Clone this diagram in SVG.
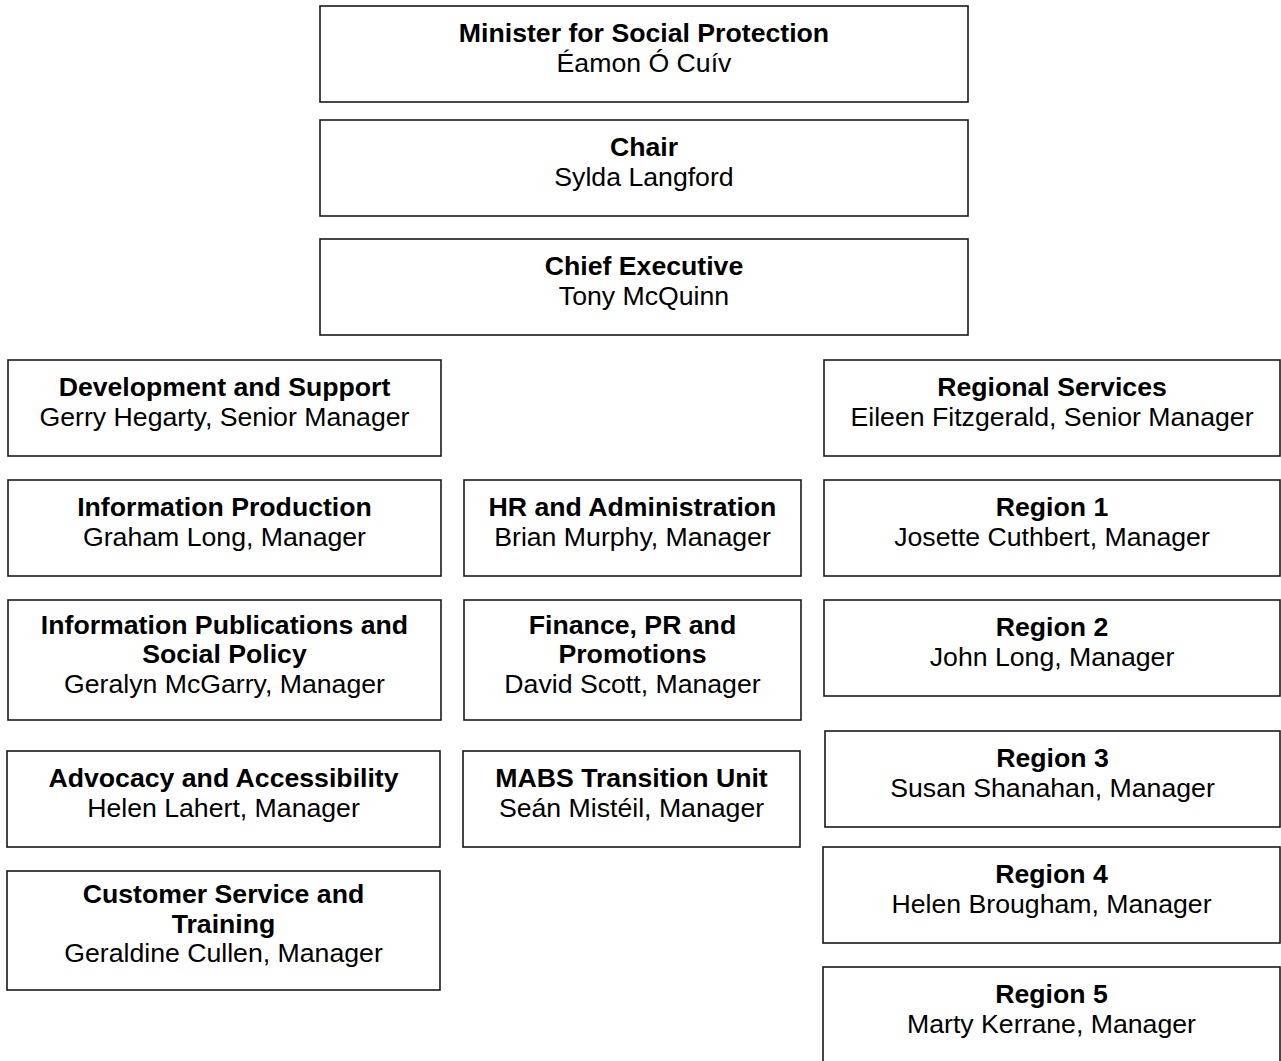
<svg xmlns="http://www.w3.org/2000/svg" width="1281" height="1061" viewBox="0 0 1281 1061">
<style>
.box{fill:#fff;stroke:#1a1a1a;stroke-width:1.6}
text{font-family:"Liberation Sans",Arial,sans-serif;font-size:26.67px;fill:#000;text-anchor:middle}
.t{font-weight:bold}
</style>
<rect width="1281" height="1061" fill="#fff"/>
<g id="connectors"></g>
<g id="minister"><rect class="box" x="320" y="6" width="648" height="96"/><text class="t" x="644" y="41.5">Minister for Social Protection</text><text x="644" y="71.5">Éamon Ó Cuív</text></g>
<g id="chair"><rect class="box" x="320" y="120" width="648" height="96"/><text class="t" x="644" y="156">Chair</text><text x="644" y="186">Sylda Langford</text></g>
<g id="ceo"><rect class="box" x="320" y="239" width="648" height="96"/><text class="t" x="644" y="274.5">Chief Executive</text><text x="644" y="304.5">Tony McQuinn</text></g>
<g id="dev"><rect class="box" x="8" y="360" width="433" height="96"/><text class="t" x="224.5" y="395.5">Development and Support</text><text x="224.5" y="425.5">Gerry Hegarty, Senior Manager</text></g>
<g id="regional"><rect class="box" x="824" y="360" width="456" height="96"/><text class="t" x="1052" y="395.5">Regional Services</text><text x="1052" y="425.5">Eileen Fitzgerald, Senior Manager</text></g>
<g id="infoprod"><rect class="box" x="8" y="480" width="433" height="96"/><text class="t" x="224.5" y="515.5">Information Production</text><text x="224.5" y="545.5">Graham Long, Manager</text></g>
<g id="hr"><rect class="box" x="464" y="480" width="337" height="96"/><text class="t" x="632.5" y="515.5">HR and Administration</text><text x="632.5" y="545.5">Brian Murphy, Manager</text></g>
<g id="region1"><rect class="box" x="824" y="480" width="456" height="96"/><text class="t" x="1052" y="515.5">Region 1</text><text x="1052" y="545.5">Josette Cuthbert, Manager</text></g>
<g id="infopub"><rect class="box" x="8" y="600" width="433" height="120"/><text class="t" x="224.5" y="633.5">Information Publications and</text><text class="t" x="224.5" y="663">Social Policy</text><text x="224.5" y="692.5">Geralyn McGarry, Manager</text></g>
<g id="finance"><rect class="box" x="464" y="600" width="337" height="120"/><text class="t" x="632.5" y="633.5">Finance, PR and</text><text class="t" x="632.5" y="663">Promotions</text><text x="632.5" y="692.5">David Scott, Manager</text></g>
<g id="region2"><rect class="box" x="824" y="600" width="456" height="96"/><text class="t" x="1052" y="635.5">Region 2</text><text x="1052" y="665.5">John Long, Manager</text></g>
<g id="advocacy"><rect class="box" x="7" y="751" width="433" height="96"/><text class="t" x="223.5" y="786.5">Advocacy and Accessibility</text><text x="223.5" y="816.5">Helen Lahert, Manager</text></g>
<g id="mabs"><rect class="box" x="463" y="751" width="337" height="96"/><text class="t" x="631.5" y="786.5">MABS Transition Unit</text><text x="631.5" y="816.5">Seán Mistéil, Manager</text></g>
<g id="region3"><rect class="box" x="825" y="731" width="455" height="96"/><text class="t" x="1052.5" y="766.5">Region 3</text><text x="1052.5" y="796.5">Susan Shanahan, Manager</text></g>
<g id="region4"><rect class="box" x="823" y="847" width="457" height="96"/><text class="t" x="1051.5" y="882.5">Region 4</text><text x="1051.5" y="912.5">Helen Brougham, Manager</text></g>
<g id="customer"><rect class="box" x="7" y="871" width="433" height="119"/><text class="t" x="223.5" y="903">Customer Service and</text><text class="t" x="223.5" y="932.5">Training</text><text x="223.5" y="962">Geraldine Cullen, Manager</text></g>
<g id="region5"><rect class="box" x="823" y="967" width="457" height="96"/><text class="t" x="1051.5" y="1002.5">Region 5</text><text x="1051.5" y="1032.5">Marty Kerrane, Manager</text></g>
</svg>
